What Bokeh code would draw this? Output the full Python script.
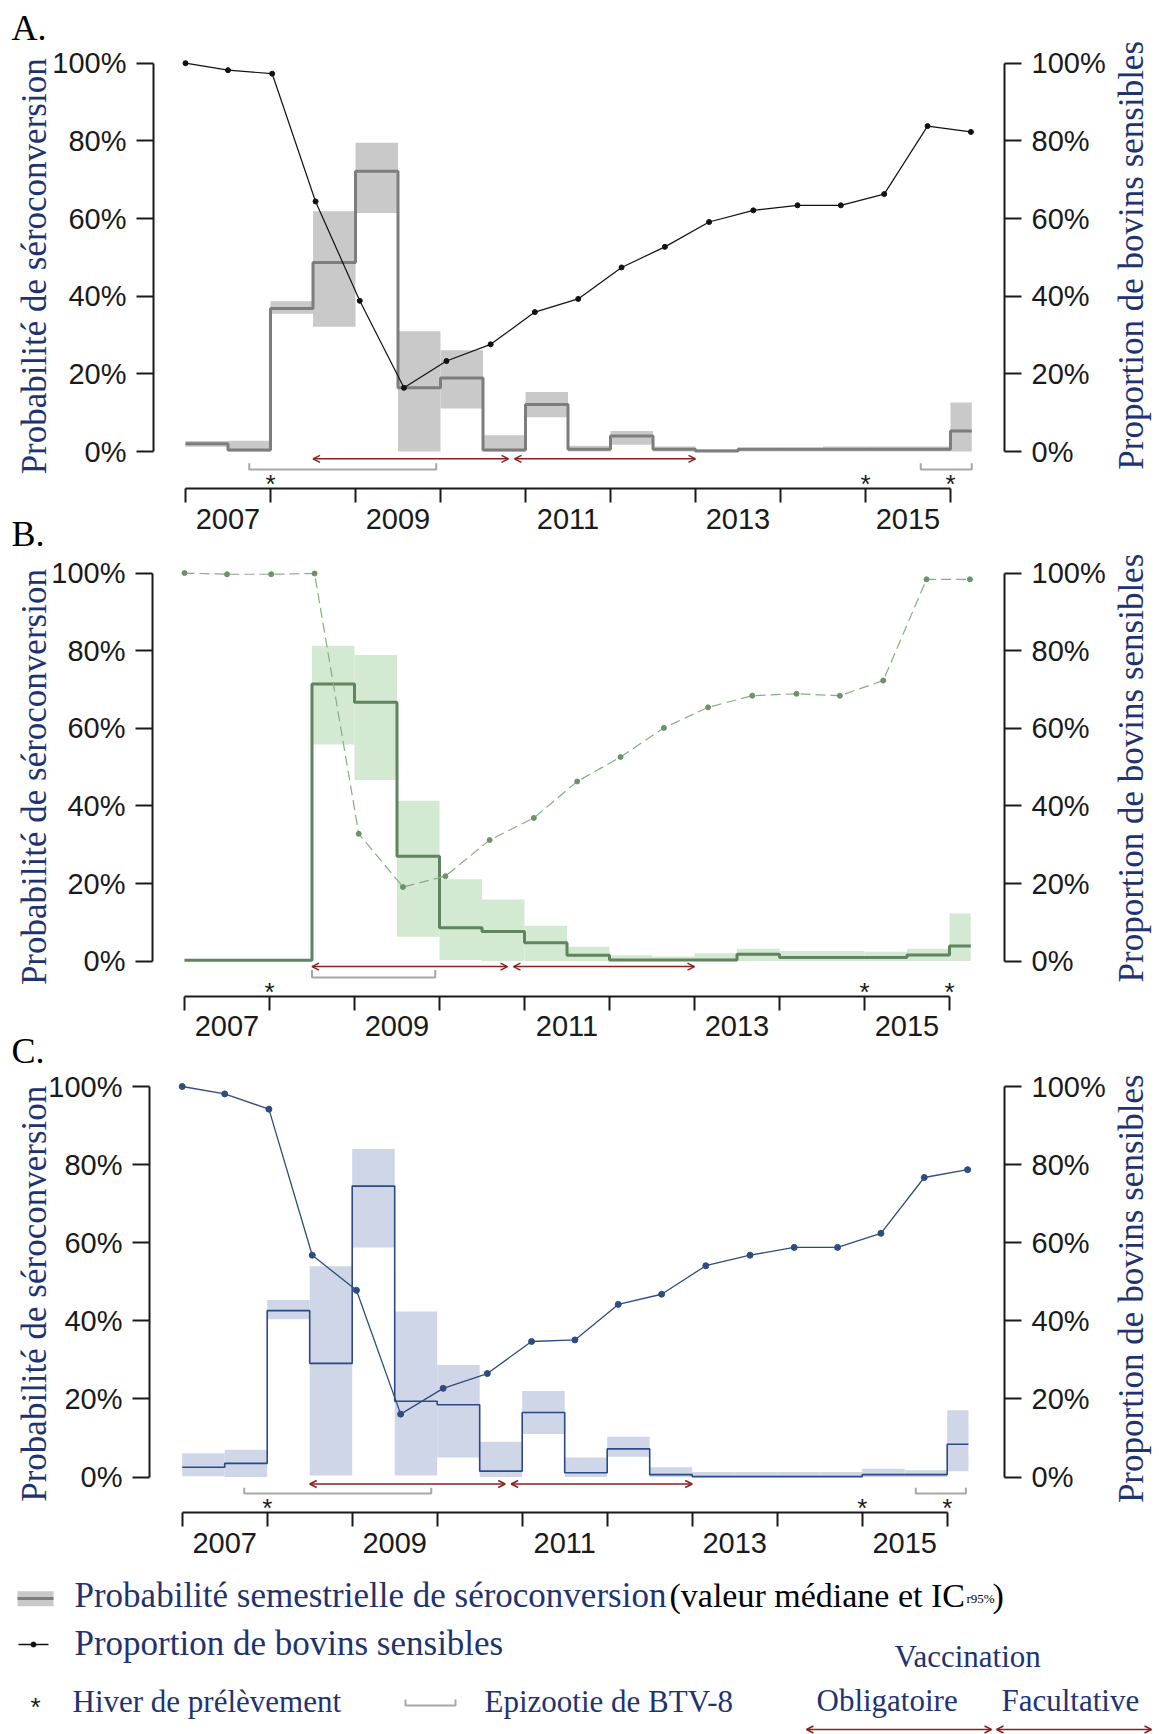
import math
from bokeh.plotting import figure
from bokeh.layouts import column
from bokeh.models import (Range1d, LinearAxis, FixedTicker, CustomJSTickFormatter,
                          Label, Arrow, OpenHead)
from bokeh.embed import file_html
from bokeh.resources import INLINE
from bokeh.core.properties import value

# ---------------------------------------------------------------- data
semester_edges = [2007.0, 2007.5, 2008.0, 2008.5, 2009.0, 2009.5, 2010.0, 2010.5,
                  2011.0, 2011.5, 2012.0, 2012.5, 2013.0, 2013.5, 2014.0, 2014.5,
                  2015.0, 2015.5, 2016.0, 2016.25]
sample_dates = [2007.0, 2007.5, 2008.02, 2008.53, 2009.05, 2009.57, 2010.07, 2010.59,
                2011.11, 2011.62, 2012.13, 2012.64, 2013.16, 2013.68, 2014.2, 2014.71,
                2015.22, 2015.73, 2016.24]

# Panel A
a_median = [2.0, 0.4, 36.8, 48.7, 72.2, 16.4, 18.9, 0.4, 12.1, 0.6, 4.0, 0.6, 0.15,
            0.6, 0.6, 0.6, 0.6, 0.6, 5.3]
a_low = [1.2, 0.0, 35.5, 32.1, 61.4, 0.0, 11.1, 0.0, 8.8, 0.0, 1.75, 0.0, 0.0,
         0.0, 0.0, 0.0, 0.0, 0.0, 0.0]
a_high = [2.7, 2.8, 38.7, 61.9, 79.5, 31.0, 26.1, 4.2, 15.3, 1.5, 5.3, 1.3, 0.6,
          1.0, 1.0, 1.3, 1.3, 1.3, 12.6]
a_susceptible = [100.0, 98.2, 97.3, 64.4, 38.8, 16.4, 23.3, 27.6, 35.9, 39.3, 47.4,
                 52.7, 59.1, 62.1, 63.4, 63.4, 66.3, 83.8, 82.3]

# Panel B
b_median = [0.2, 0.2, 0.2, 71.4, 66.7, 27.0, 8.6, 7.6, 4.7, 1.5, 0.3, 0.3, 0.3,
            1.75, 0.9, 0.9, 0.9, 1.6, 3.9]
b_low = [0.0, 0.0, 0.0, 55.8, 46.7, 6.3, 0.3, 0.0, 0.0, 0.0, 0.0, 0.0, 0.0,
         0.0, 0.0, 0.0, 0.0, 0.0, 0.0]
b_high = [0.3, 0.3, 0.3, 81.3, 78.9, 41.3, 21.1, 15.9, 9.1, 3.7, 1.5, 1.2, 2.0,
          3.2, 2.6, 2.6, 2.4, 3.2, 12.3]
b_susceptible = [100.0, 99.7, 99.7, 99.9, 32.8, 19.1, 21.9, 31.2, 36.9, 46.3, 52.6,
                 60.1, 65.4, 68.4, 68.9, 68.4, 72.3, 98.4, 98.4]

# Panel C
c_median = [2.5, 3.5, 42.6, 29.1, 74.5, 19.4, 18.5, 1.5, 16.5, 1.1, 7.2, 0.6, 0.1,
            0.1, 0.1, 0.1, 0.6, 0.6, 8.4]
c_low = [0.2, 0.0, 40.4, 0.4, 58.8, 0.4, 5.0, 0.0, 11.0, 0.0, 5.2, 0.0, 0.0,
         0.0, 0.0, 0.0, 0.0, 0.0, 1.5]
c_high = [6.1, 7.0, 45.3, 54.0, 84.0, 42.4, 28.7, 9.0, 22.0, 5.0, 10.3, 2.5, 1.3,
          1.3, 1.3, 1.3, 2.1, 1.7, 17.1]
c_susceptible = [100.0, 98.1, 94.2, 56.8, 47.8, 16.1, 22.7, 26.5, 34.7, 35.1, 44.2,
                 46.8, 54.1, 56.8, 58.8, 58.8, 62.4, 76.7, 78.7]

year_ticks = [2007, 2008, 2009, 2010, 2011, 2012, 2013, 2014, 2015, 2016]
year_label_pos = [2007.5, 2009.5, 2011.5, 2013.5, 2015.5]
pct_ticks = [0, 20, 40, 60, 80, 100]
winters_sampled = [2008.0, 2015.0, 2016.0]
vacc_mandatory = (2008.5, 2010.8)
vacc_optional = (2010.87, 2013.0)
a_epizootic = [(2007.75, 2009.95), (2015.65, 2016.25)]
b_epizootic = [(2008.5, 2009.95)]
c_epizootic = [(2007.73, 2009.93), (2015.63, 2016.22)]

# ---------------------------------------------------------------- style
SERIF = "Liberation Serif"
SANS = "Liberation Sans"
NAVY = "#1e3370"
INK = "#1a1a1a"
RED = "#8b2020"
BRACKET = "#a8a8a8"
PAGE_W = 1159
LEFT_EDGE = 0
RIGHT_EDGE = LEFT_EDGE + PAGE_W
LBL_SHIFT = 11   # Label baseline correction (px)


def build_panel(cfg):
    top, h = cfg["top"], cfg["h"]
    y0, y100, x07 = cfg["y0"], cfg["y100"], cfg["x07"]
    ppp = (y0 - y100) / 100.0

    def yr(rx):            # page x -> year
        return 2007 + (rx - x07) / 85.0

    def pc(ry):            # page y -> percent
        return (y0 - ry) / ppp

    p = figure(width=PAGE_W, height=h, x_range=Range1d(yr(LEFT_EDGE), yr(RIGHT_EDGE)),
               y_range=Range1d(pc(top + h), pc(top)), x_axis_type=None, y_axis_type=None,
               output_backend="svg", toolbar_location=None, min_border=0)
    p.outline_line_color = None
    p.background_fill_color = "white"
    p.border_fill_color = "white"

    # x axis: ticks at year boundaries, labels mid-year
    xa = LinearAxis(ticker=FixedTicker(ticks=year_label_pos, minor_ticks=year_ticks),
                    formatter=CustomJSTickFormatter(code="return String(Math.floor(tick));"),
                    bounds=(2007, 2016), fixed_location=pc(cfg["xaxis"]))
    xa.major_tick_out = 0
    xa.major_tick_in = 0
    xa.minor_tick_out = 14
    xa.minor_tick_in = 0
    xa.minor_tick_line_width = 2
    xa.minor_tick_line_color = INK
    xa.axis_line_width = 2
    xa.axis_line_color = INK
    xa.major_label_text_font = SANS
    xa.major_label_text_font_size = "29px"
    xa.major_label_text_color = INK
    xa.major_label_standoff = 6
    p.add_layout(xa, "below")

    for side, px in (("left", cfg["L"]), ("right", cfg["R"])):
        ya = LinearAxis(ticker=FixedTicker(ticks=pct_ticks),
                        formatter=CustomJSTickFormatter(code="return tick.toFixed(0) + '%';"),
                        bounds=(0, 100), fixed_location=yr(px))
        ya.major_tick_out = 17
        ya.major_tick_in = 0
        ya.minor_tick_out = 0
        ya.minor_tick_in = 0
        ya.major_tick_line_width = 2
        ya.major_tick_line_color = INK
        ya.axis_line_width = 2
        ya.axis_line_color = INK
        ya.major_label_text_font = SANS
        ya.major_label_text_font_size = "29px"
        ya.major_label_text_color = INK
        ya.major_label_standoff = 10
        p.add_layout(ya, side)

    edges = semester_edges
    p.quad(left=edges[:-1], right=edges[1:], bottom=cfg["low"], top=cfg["high"],
           fill_color=cfg["band"], line_color=None)
    med = cfg["median"]
    p.step(x=edges, y=med + [med[-1]], mode="after", line_color=cfg["step"],
           line_width=cfg["step_w"])
    p.line(sample_dates, cfg["sus"], line_color=cfg["sus_line"], line_width=cfg["sus_w"],
           line_dash=cfg["dash"])
    p.scatter(sample_dates, cfg["sus"], size=cfg["dot"], fill_color=cfg["sus_dot"],
              line_color=cfg["sus_dot"])

    # epizootic brackets
    yb_bot = pc(cfg["br_bot"])
    yb_top = pc(cfg["br_top"])
    for a, b in cfg["epi"]:
        p.line([a, a, b, b], [yb_top, yb_bot, yb_bot, yb_top], line_color=BRACKET,
               line_width=2)

    # vaccination arrows
    y_arr = pc(cfg["arr"])
    for a, b in (vacc_mandatory, vacc_optional):
        p.add_layout(Arrow(x_start=a, y_start=y_arr, x_end=b, y_end=y_arr,
                           line_color=RED, line_width=1.5,
                           start=OpenHead(size=7, line_color=RED, line_width=1.5),
                           end=OpenHead(size=7, line_color=RED, line_width=1.5)))

    # sampled winters
    ys = pc(cfg["star"] + 4)
    p.text(x=winters_sampled, y=[ys] * len(winters_sampled),
           text=["*"] * len(winters_sampled), text_font=value(SANS),
           text_font_size="26px", text_align="center", text_baseline="middle",
           text_color=INK)

    # axis titles (rotated: baseline correction acts along x)
    mid = (y0 + y100) / 2.0
    p.add_layout(Label(x=yr(45 - LBL_SHIFT), y=pc(mid + cfg["lt_off"]),
                       text="Probabilité de séroconversion",
                       angle=math.pi / 2, text_align="center", text_baseline="alphabetic",
                       text_font=SERIF, text_font_size="35px", text_color=NAVY))
    p.add_layout(Label(x=yr(1142 - LBL_SHIFT), y=pc(mid + cfg["rt_off"]),
                       text="Proportion de bovins sensibles",
                       angle=math.pi / 2, text_align="center", text_baseline="alphabetic",
                       text_font=SERIF, text_font_size="35px", text_color=NAVY))

    for letter, lx, ly in cfg["letters"]:
        p.add_layout(Label(x=yr(lx), y=pc(ly - LBL_SHIFT), text=letter, text_align="left",
                           text_baseline="alphabetic", text_font=SERIF,
                           text_font_size="36px", text_color="#000000"))
    return p


pA = build_panel(dict(top=0, h=552, L=153, R=1004, xaxis=488, y0=451.0, y100=62.7, x07=185.0,
                      median=a_median, low=a_low, high=a_high, sus=a_susceptible,
                      band="#c9c9c9", step="#7d7d7d", step_w=3, sus_line="#111111",
                      sus_dot="#111111", sus_w=1.2, dash="solid", dot=5,
                      epi=a_epizootic, br_bot=469, br_top=462.7, arr=458.3, star=479,
                      lt_off=9, rt_off=-2,
                      letters=[("A.", 11, 38.6), ("B.", 11, 544)]))
pB = build_panel(dict(top=552, h=517, L=152, R=1004, xaxis=995.5, y0=960.6, y100=572.6, x07=184.0,
                      median=b_median, low=b_low, high=b_high, sus=b_susceptible,
                      band="#d4e9d1", step="#5f845f", step_w=3, sus_line="#86ad86",
                      sus_dot="#6b926b", sus_w=1.2, dash="10 5", dot=5,
                      epi=b_epizootic, br_bot=977, br_top=969.4, arr=966.1, star=987,
                      lt_off=10, rt_off=1,
                      letters=[("C.", 11, 1061)]))
pC = build_panel(dict(top=1069, h=501, L=149, R=1004, xaxis=1512.3, y0=1476.5, y100=1086.0, x07=181.7,
                      median=c_median, low=c_low, high=c_high, sus=c_susceptible,
                      band="#cfd6e8", step="#2b4a85", step_w=1.6, sus_line="#2f4c7e",
                      sus_dot="#2f4c7e", sus_w=1.3, dash="solid", dot=6,
                      epi=c_epizootic, br_bot=1493, br_top=1487.3, arr=1483.5, star=1503.5,
                      lt_off=12, rt_off=7,
                      letters=[]))

# ---------------------------------------------------------------- legend
lg = figure(width=PAGE_W, height=164, x_range=Range1d(LEFT_EDGE, RIGHT_EDGE),
            y_range=Range1d(1734, 1570), x_axis_type=None, y_axis_type=None,
            output_backend="svg", toolbar_location=None, min_border=0)
lg.outline_line_color = None
lg.background_fill_color = "white"
lg.border_fill_color = "white"

lg.quad(left=[17], right=[53], top=[1590.7], bottom=[1605.7], fill_color="#c9c9c9",
        line_color=None)
lg.line([17, 53], [1598, 1598], line_color="#7d7d7d", line_width=3)
lg.line([18, 48], [1644, 1644], line_color="#111111", line_width=1.5)
lg.scatter([33], [1644], size=5, fill_color="#111111", line_color="#111111")
lg.text(x=[35], y=[1706], text=["*"], text_font=value(SANS), text_font_size="26px",
        text_align="center", text_baseline="middle", text_color=INK)
lg.line([405, 405, 455, 455], [1699, 1705, 1705, 1699], line_color=BRACKET, line_width=2)


def ltext(x, y, t, size, color=NAVY):
    lg.add_layout(Label(x=x, y=y - LBL_SHIFT, text=t, text_align="left",
                        text_baseline="alphabetic", text_font=SERIF, text_font_size=size,
                        text_color=color))


ltext(74, 1606, "Probabilité semestrielle de séroconversion", "35px")
ltext(669, 1606, "(valeur médiane et IC", "34px", "#000000")
ltext(966, 1609, "r95%", "13px", "#000000")
ltext(992, 1606, ")", "34px", "#000000")
ltext(74, 1654, "Proportion de bovins sensibles", "35px")
ltext(72, 1712, "Hiver de prélèvement", "31px")
ltext(484, 1712, "Epizootie de BTV-8", "31px")
ltext(894, 1667, "Vaccination", "31px")
ltext(816, 1711, "Obligatoire", "31px")
ltext(1001, 1711, "Facultative", "31px")
for a, b in ((806, 991), (996, 1151)):
    lg.add_layout(Arrow(x_start=a, y_start=1729, x_end=b, y_end=1729, line_color=RED,
                        line_width=1.5,
                        start=OpenHead(size=7, line_color=RED, line_width=1.5),
                        end=OpenHead(size=7, line_color=RED, line_width=1.5)))

layout = column(pA, pB, pC, lg, spacing=0)
open("out.html", "w").write(file_html(layout, INLINE))
